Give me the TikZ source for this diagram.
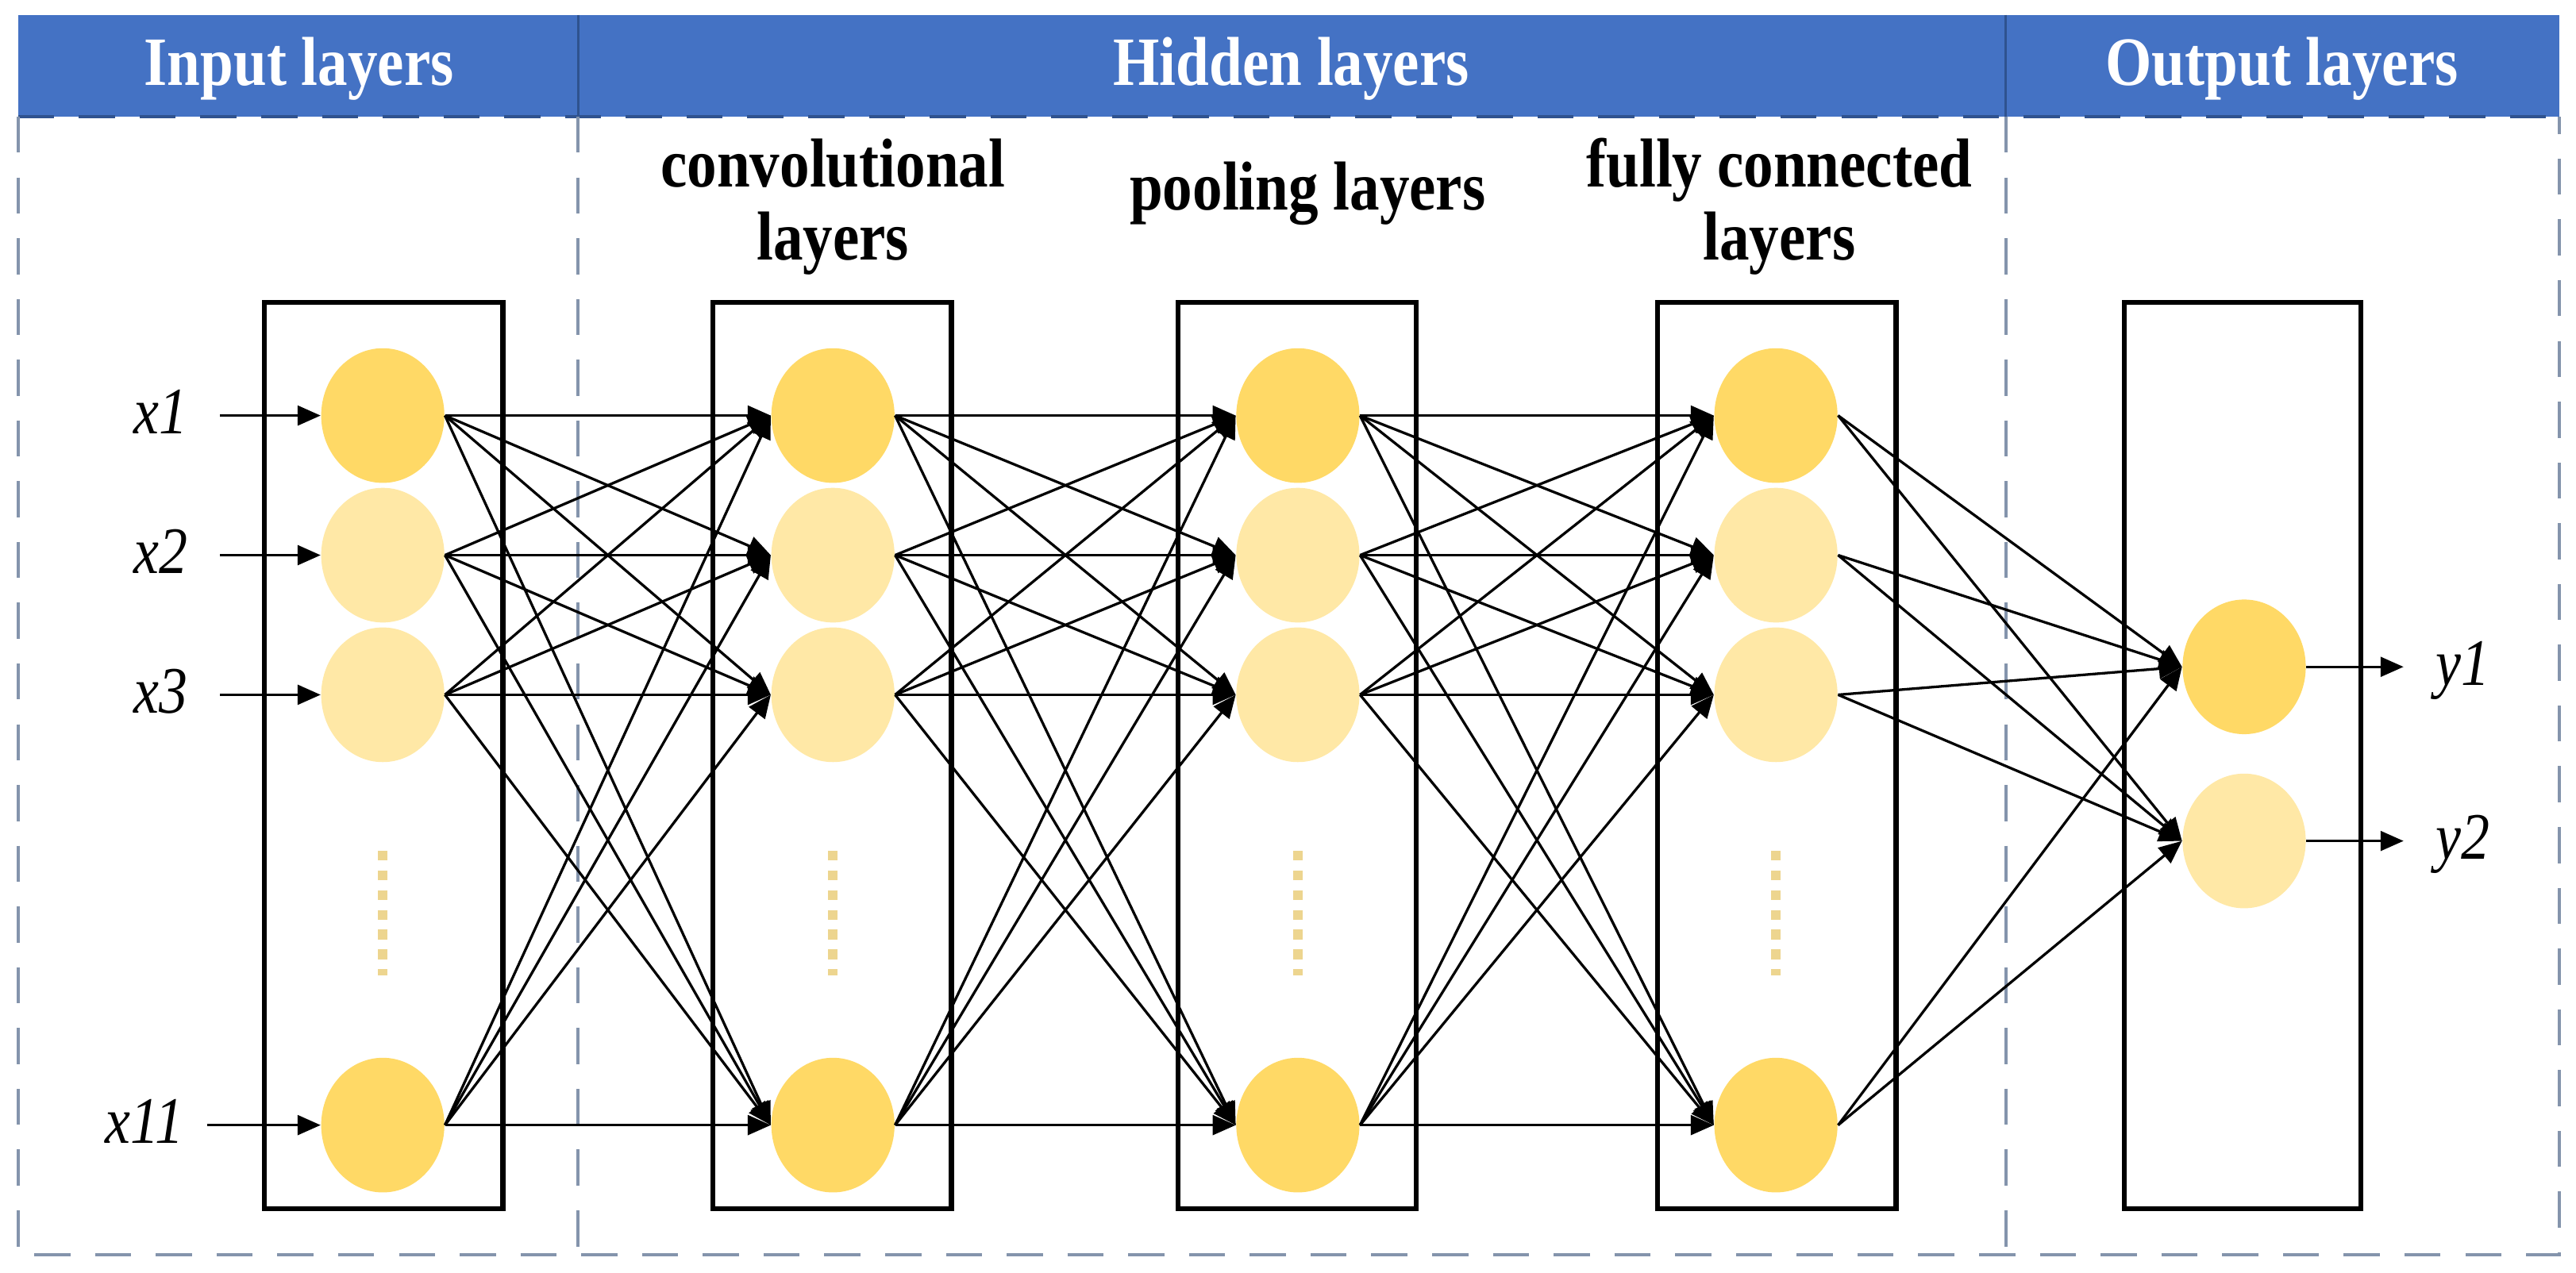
\documentclass[tikz,border=0pt]{standalone}
\usepackage{fontspec}
\setmainfont{Liberation Serif}
\newfontfamily\condserif{Liberation Serif}[FakeStretch=0.86]
\usetikzlibrary{arrows.meta,shapes.geometric}
\definecolor{hdrblue}{HTML}{4472C4}
\definecolor{hdrline}{HTML}{2F528F}
\definecolor{nodedark}{HTML}{FFD966}
\definecolor{nodelight}{HTML}{FFE8A6}
\definecolor{dashgray}{HTML}{8494AC}
\definecolor{dotcol}{HTML}{EDD58F}
\begin{document}
\begin{tikzpicture}[x=0.02cm,y=-0.02cm,
  neuron/.style={ellipse, draw=none, inner sep=0pt, minimum width=1.5cm, minimum height=1.64cm},
  dkn/.style={neuron, fill=nodedark},
  ltn/.style={neuron, fill=nodelight},
  layerbox/.style={draw=black, line width=1.8pt},
  conn/.style={line width=0.9pt, -{Triangle[length=0.28cm,width=0.24cm]}},
  frame/.style={draw=dashgray, line width=1.1pt, dash pattern=on 0.44cm off 0.3cm},
  hdrtext/.style={text=white, font=\condserif\bfseries\fontsize{24}{27}\selectfont, anchor=base},
  sublabel/.style={font=\condserif\bfseries\fontsize{24}{27}\selectfont, align=center, anchor=base},
  varlabel/.style={font=\condserif\itshape\fontsize{23}{26}\selectfont, anchor=base},
  dotline/.style={draw=dotcol, line width=0.12cm, dash pattern=on 0.12cm off 0.12cm}
]
\useasboundingbox (0,0) rectangle (1568,775);

% header band
\fill[hdrblue] (11,9) rectangle (1558,71);
\draw[hdrline, line width=0.8pt] (352,9) -- (352,71);
\draw[hdrline, line width=0.8pt] (1221,9) -- (1221,71);
\draw[hdrline, line width=1.1pt, dash pattern=on 0.44cm off 0.3cm] (11,71) -- (1558,71);
\node[hdrtext] (hin) at (182,52) {Input layers};
\node[hdrtext] (hhid) at (786,52) {Hidden layers};
\node[hdrtext] (hout) at (1389,52) {Output layers};

% dashed frame
\draw[frame] (11,71) -- (11,764) -- (1558,764) -- (1558,71);
\draw[frame] (352,71) -- (352,764);
\draw[frame] (1221,71) -- (1221,764);

% sub labels
\node[sublabel] (lconv) at (507,114) {convolutional};
\node[sublabel] (lconv2) at (507,158) {layers};
\node[sublabel] (lpool) at (796,128) {pooling layers};
\node[sublabel] (lfc) at (1083,114) {fully connected};
\node[sublabel] (lfc2) at (1083,158) {layers};

% layer boxes
\draw[layerbox] (161,184) rectangle (306,736);
\draw[layerbox] (434,184) rectangle (579,736);
\draw[layerbox] (717,184) rectangle (862,736);
\draw[layerbox] (1009,184) rectangle (1154,736);
\draw[layerbox] (1293,184) rectangle (1437,736);

% dotted ellipsis lines
\foreach \xx in {233,507,790,1081} {
  \draw[dotline] (\xx,518) -- (\xx,594);
}

% neurons
\foreach \nm/\xx in {i/233,c/507,p/790,f/1081} {
  \node[dkn] (\nm1) at (\xx,253) {};
  \node[ltn] (\nm2) at (\xx,338) {};
  \node[ltn] (\nm3) at (\xx,423) {};
  \node[dkn] (\nm4) at (\xx,685) {};
}
\node[dkn] (o1) at (1366,406) {};
\node[ltn] (o2) at (1366,512) {};

% connections
\foreach \a in {1,...,4} {
  \foreach \b in {1,...,4} {
    \draw[conn] (i\a.east) -- (c\b.west);
    \draw[conn] (c\a.east) -- (p\b.west);
    \draw[conn] (p\a.east) -- (f\b.west);
  }
  \draw[conn] (f\a.east) -- (o1.west);
  \draw[conn] (f\a.east) -- (o2.west);
}

% inputs
\coordinate (s1) at (134,253);
\coordinate (s2) at (134,338);
\coordinate (s3) at (134,423);
\coordinate (s4) at (126,685);
\foreach \k in {1,...,4} { \draw[conn] (s\k) -- (i\k.west); }
\node[varlabel] (x1) at (98,264) {x1};
\node[varlabel] (x2) at (98,349) {x2};
\node[varlabel] (x3) at (98,434) {x3};
\node[varlabel] (x11) at (88,696) {x11};

% outputs
\coordinate (e1) at (1463,406);
\coordinate (e2) at (1463,512);
\draw[conn] (o1.east) -- (e1);
\draw[conn] (o2.east) -- (e2);
\node[varlabel] (y1) at (1499,417) {y1};
\node[varlabel] (y2) at (1499,523) {y2};
\end{tikzpicture}
\end{document}
